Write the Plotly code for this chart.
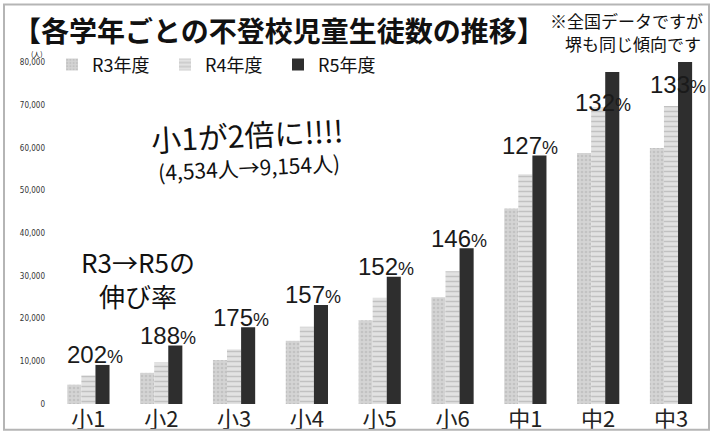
import plotly.graph_objects as go

categories = ["小1", "小2", "小3", "小4", "小5", "小6", "中1", "中2", "中3"]
r3 = [4534, 7300, 10300, 14800, 19600, 25000, 45800, 58800, 60000]
r4 = [6700, 9800, 12800, 18100, 24900, 31100, 53800, 69500, 69800]
r5 = [9154, 13700, 18000, 23200, 29800, 36500, 58200, 77800, 80100]
growth = ["202", "188", "175", "157", "152", "146", "127", "132", "133"]
series_names = ["R3年度", "R4年度", "R5年度"]
y_ticks = [0, 10000, 20000, 30000, 40000, 50000, 60000, 70000, 80000]

W, H = 713, 438
ML, MR, MT, MB = 52, 5, 54, 31
PW, PH = W - ML - MR, H - MT - MB


def px(x):
    return (x - ML) / PW


def py(y):
    return (H - MB - y) / PH


JP = "Noto Sans CJK JP"

fig = go.Figure()
fig.add_bar(x=categories, y=r3, name=series_names[0],
            marker=dict(color="#d4d4d4", line_width=0,
                        pattern=dict(shape=".", fgcolor="#b0b0b0", size=4, solidity=0.35)))
fig.add_bar(x=categories, y=r4, name=series_names[1],
            marker=dict(color="#e2e2e2", line_width=0,
                        pattern=dict(shape="-", fgcolor="#a0a0a0", size=5, solidity=0.3)))
fig.add_bar(x=categories, y=r5, name=series_names[2],
            marker=dict(color="#2e2e2e", line_width=0))

label_yshift = [10, 10, 10, 10, 10, 10, 10, -31, -22]
label_xshift = [7, 7, 7, 6, 6, 6, 5, 5, 7]
for i, c in enumerate(categories):
    fig.add_annotation(x=c, y=r5[i], xref="x", yref="y",
                       text=growth[i] + "<span style='font-size:18px'>%</span>",
                       showarrow=False, xshift=label_xshift[i], yshift=label_yshift[i],
                       xanchor="center", yanchor="middle",
                       font=dict(family="Liberation Sans, Arial", size=24, color="#1a1a1a"))


def note(x, y, text, size, bold=False, angle=0, xanchor="center"):
    fig.add_annotation(x=px(x), y=py(y), xref="paper", yref="paper",
                       xanchor=xanchor, yanchor="middle",
                       text=f"<b>{text}</b>" if bold else text, showarrow=False,
                       textangle=angle, font=dict(family=JP, size=size, color="#111"))


# Title and notes
note(11, 30, "【各学年ごとの不登校児童生徒数の推移】", 28, bold=True, xanchor="left")
note(705, 20, "※全国データですが", 17, xanchor="right")
note(703, 43, "堺も同じ傾向です", 17, xanchor="right")
note(37, 54, "(人)", 7)

# Callouts
note(247, 135, "小1が2倍に!!!!", 30, angle=-3)
note(249, 168, "(4,534人→9,154人)", 21, angle=-3)
note(138, 280, "R3→R5の<br>伸び率", 26)

# Outer frame
fig.add_shape(type="rect", xref="paper", yref="paper",
              x0=px(4), x1=px(709), y0=py(433), y1=py(4),
              line=dict(color="#b5b5b5", width=2))

fig.update_layout(
    width=W, height=H,
    margin=dict(l=ML, r=MR, t=MT, b=MB, pad=0),
    paper_bgcolor="white", plot_bgcolor="white",
    barmode="group", bargap=0.42, bargroupgap=0,
    showlegend=True,
    legend=dict(orientation="h", x=0, y=py(65), xanchor="left", yanchor="middle",
                font=dict(family=JP, size=18, color="#111"),
                entrywidth=68, entrywidthmode="pixels",
                bgcolor="rgba(0,0,0,0)", borderwidth=0, itemwidth=30),
    xaxis=dict(showgrid=False, showline=False, ticks="", zeroline=False,
               tickfont=dict(family=JP, size=22, color="#222")),
    yaxis=dict(range=[0, 82000], tickvals=y_ticks, tickformat=",d",
               showgrid=False, showline=False, zeroline=False, ticks="",
               ticklabelstandoff=6,
               tickfont=dict(family="DejaVu Sans Condensed", size=8, color="#333")),
)

fig.write_html("out.html", config={"displayModeBar": False},
               post_script="document.body.style.margin='0';")
